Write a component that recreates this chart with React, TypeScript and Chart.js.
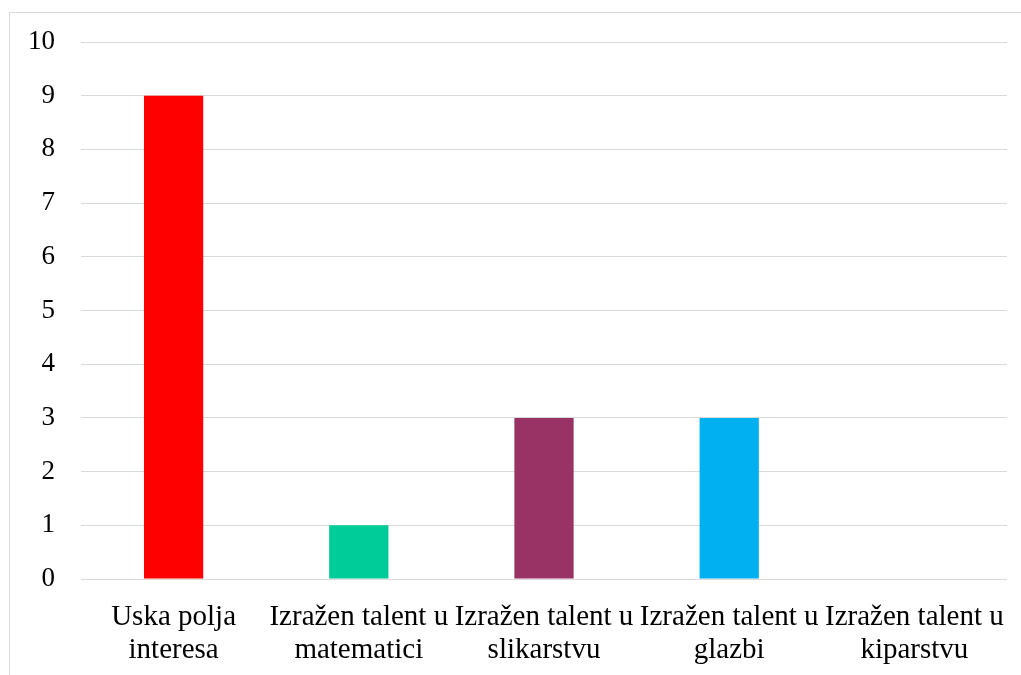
import React, { useEffect, useRef } from "react";
import { Chart, registerables } from "chart.js";

Chart.register(...registerables);

const categories: string[][] = [
  ["Uska polja", "interesa"],
  ["Izražen talent u", "matematici"],
  ["Izražen talent u", "slikarstvu"],
  ["Izražen talent u", "glazbi"],
  ["Izražen talent u", "kiparstvu"],
];
const values: number[] = [9, 1, 3, 3, 0];
const barColors: string[] = ["#FF0000", "#00CC99", "#993366", "#00B0F0", "#7F7F7F"];
const yMin = 0;
const yMax = 10;
const yStep = 1;

export default function App() {
  const ref = useRef<HTMLCanvasElement | null>(null);
  useEffect(() => {
    if (!ref.current) return;
    const family = "'Liberation Serif', 'Times New Roman', serif";
    const chart = new Chart(ref.current, {
      type: "bar",
      data: {
        labels: categories,
        datasets: [
          {
            data: values,
            backgroundColor: barColors,
            categoryPercentage: 1,
            barPercentage: 0.32,
          },
        ],
      },
      options: {
        animation: false,
        responsive: false,
        maintainAspectRatio: false,
        layout: { padding: { top: 42, right: 14, bottom: 0, left: 0 } },
        plugins: { legend: { display: false }, tooltip: { enabled: false } },
        scales: {
          x: {
            grid: { display: false, drawTicks: false },
            border: { display: false },
            ticks: {
              color: "#000",
              font: { family, size: 29, lineHeight: 1.14 },
              padding: 22,
              maxRotation: 0,
              autoSkip: false,
            },
            afterFit: (s: any) => {
              s.height = 96;
              s.paddingLeft = 0;
              s.paddingRight = 0;
            },
          },
          y: {
            min: yMin,
            max: yMax,
            grid: { color: "#d9d9d9", lineWidth: 1, drawTicks: false },
            border: { display: false },
            ticks: { stepSize: yStep, color: "#000", font: { family, size: 27 }, padding: 26 },
            afterFit: (s: any) => {
              s.width = 81;
              s.paddingTop = 0;
              s.paddingBottom = 0;
            },
          },
        },
      },
    });
    return () => chart.destroy();
  }, []);
  return (
    <div style={{ position: "fixed", left: 0, top: 0, width: 1021, height: 675, background: "#fff", overflow: "hidden" }}>
      <div style={{ position: "absolute", left: 9, top: 12, width: 1100, height: 800, border: "1px solid #d9d9d9", boxSizing: "border-box" }} />
      <canvas ref={ref} width={1021} height={675} style={{ position: "absolute", left: 0, top: 0 }} />
    </div>
  );
}
